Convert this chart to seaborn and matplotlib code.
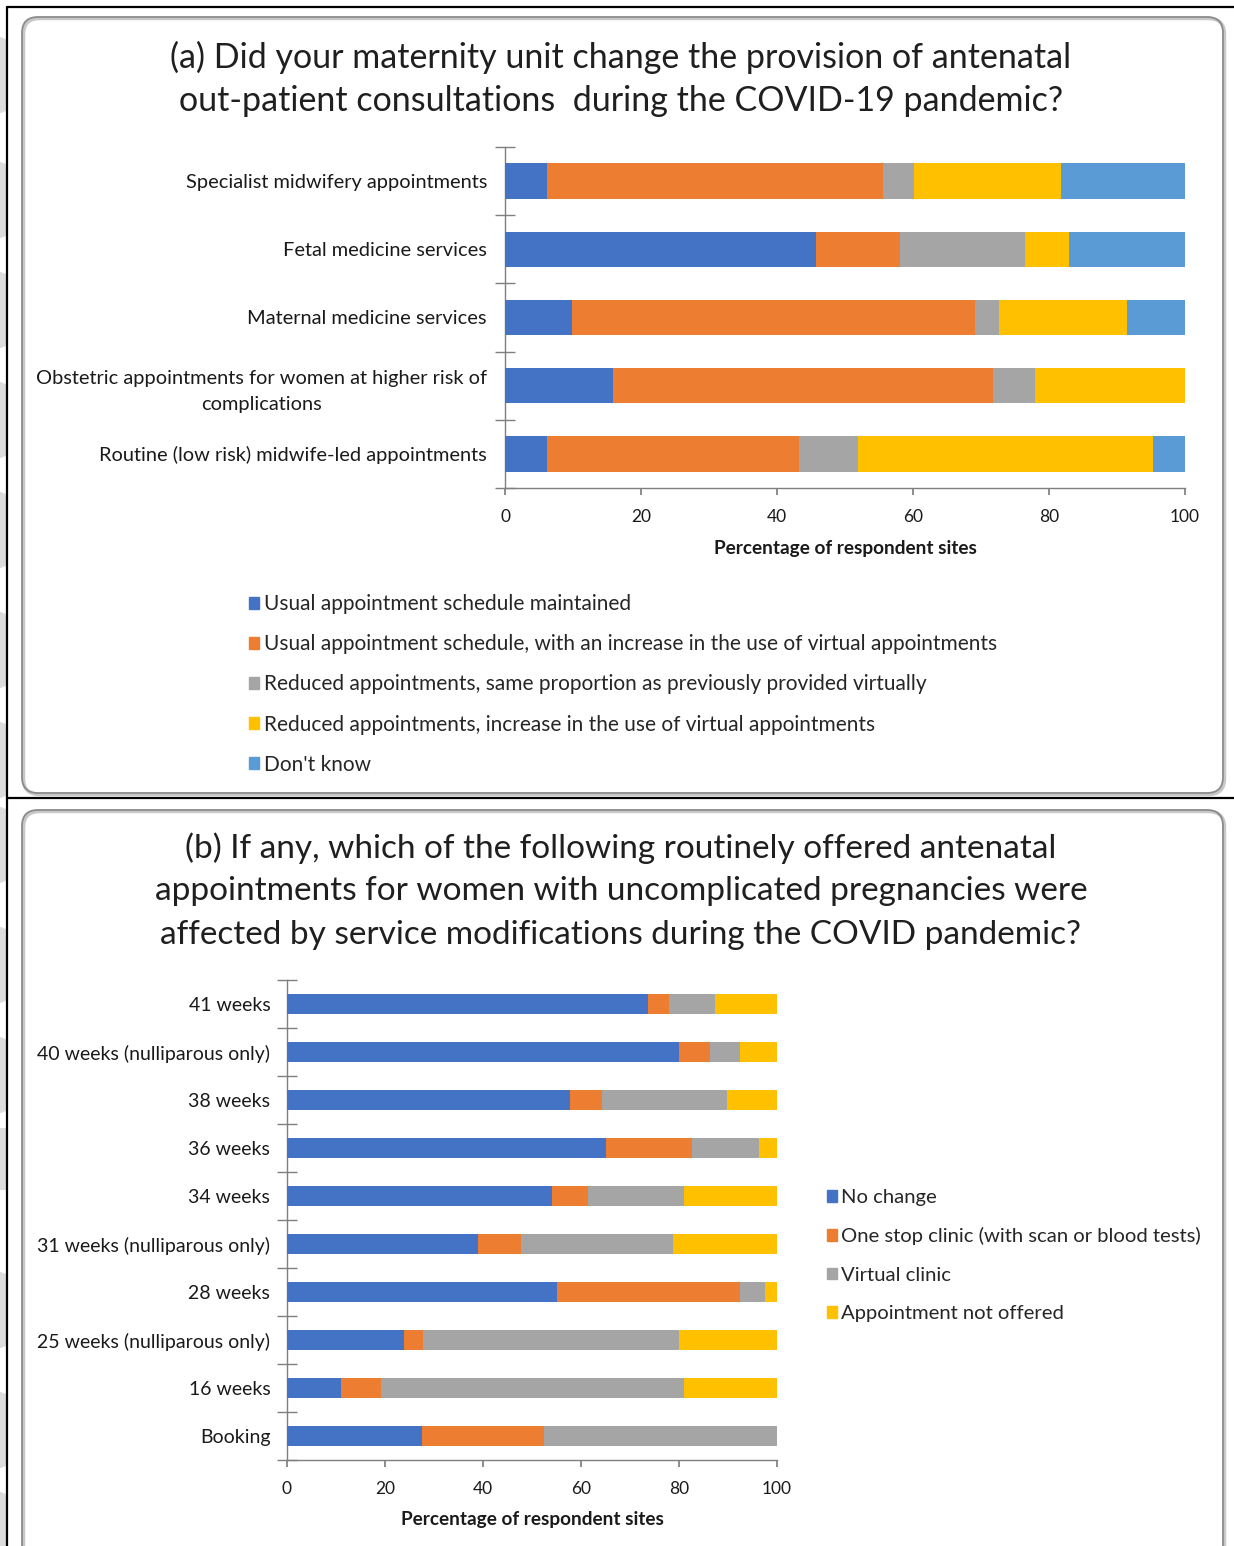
import numpy as np
import pandas as pd
import matplotlib
matplotlib.use("Agg")
import matplotlib.pyplot as plt
import seaborn as sns
from matplotlib.patches import FancyBboxPatch, Patch, Circle, Rectangle
from matplotlib.lines import Line2D

sns.set_theme(style="white")
plt.rcParams['font.family'] = ['Lato', 'DejaVu Sans']

# ---------------- Data ----------------
cats_a = ["Specialist midwifery appointments",
          "Fetal medicine services",
          "Maternal medicine services",
          "Obstetric appointments for women at higher risk of\ncomplications",
          "Routine (low risk) midwife-led appointments"]
series_a = ["Usual appointment schedule maintained",
            "Usual appointment schedule, with an increase in the use of virtual appointments",
            "Reduced appointments, same proportion as previously provided virtually",
            "Reduced appointments, increase in the use of virtual appointments",
            "Don't know"]
usual_maintained = [6.2, 45.7, 9.9, 15.9, 6.2]
usual_virtual = [49.4, 12.4, 59.2, 55.8, 37.1]
reduced_same = [4.6, 18.4, 3.6, 6.2, 8.6]
reduced_virtual = [21.5, 6.4, 18.8, 22.1, 43.4]
dont_know = [18.3, 17.1, 8.5, 0.0, 4.7]
colors_a = ["#4472C4", "#ED7D31", "#A5A5A5", "#FFC000", "#5B9BD5"]

cats_b = ["41 weeks", "40 weeks (nulliparous only)", "38 weeks", "36 weeks",
          "34 weeks", "31 weeks (nulliparous only)", "28 weeks",
          "25 weeks (nulliparous only)", "16 weeks", "Booking"]
series_b = ["No change", "One stop clinic (with scan or blood tests)",
            "Virtual clinic", "Appointment not offered"]
no_change = [73.6, 80.0, 57.8, 65.0, 54.0, 38.9, 55.0, 23.8, 11.1, 27.5]
one_stop = [4.3, 6.4, 6.4, 17.6, 7.5, 8.8, 37.5, 3.9, 8.0, 25.0]
virtual_clinic = [9.5, 6.0, 25.6, 13.8, 19.6, 31.0, 5.1, 52.3, 62.0, 47.5]
not_offered = [12.6, 7.6, 10.2, 3.6, 18.9, 21.3, 2.4, 20.0, 18.9, 0.0]
colors_b = ["#4472C4", "#ED7D31", "#A5A5A5", "#FFC000"]

xticks = [0, 20, 40, 60, 80, 100]
xlabel = "Percentage of respondent sites"

title_a = ["(a) Did your maternity unit change the provision of antenatal",
           "out-patient consultations  during the COVID-19 pandemic?"]
title_b = ["(b) If any, which of the following routinely offered antenatal",
           "appointments for women with uncomplicated pregnancies were",
           "affected by service modifications during the COVID pandemic?"]

W, H = 1234, 1546
fig = plt.figure(figsize=(W / 100, H / 100), dpi=100)
fig.patch.set_facecolor("white")


def px(x, y):
    return x / W, 1 - y / H


# ---------------- background decorations ----------------
wm = "#dcdcdc"
for cy in [75, 200, 310, 420, 530, 650, 760, 845, 965, 1075, 1310, 1430, 1530]:
    fig.add_artist(Circle((-12 / 100, (H - cy) / 100), 0.40,
                          transform=fig.dpi_scale_trans, color=wm, lw=0, zorder=0))
for (x0, y0, w, h) in [(0, 1128, 75, 7), (0, 1183, 75, 7), (0, 1128, 22, 62)]:
    fig.add_artist(Rectangle((x0 / 100, (H - y0 - h) / 100), w / 100, h / 100,
                             transform=fig.dpi_scale_trans, color=wm, lw=0, zorder=0))

# white area right of the left border
fig.add_artist(Rectangle((8 / 100, 0), (W - 8) / 100, (H - 7) / 100,
                         transform=fig.dpi_scale_trans, color="white", lw=0, zorder=0.5))

# rounded boxes
for (x0, y0, x1, y1) in [(22, 17, 1223, 793), (22, 810, 1223, 1575)]:
    for off, col, lw in [(1.5, "#c8c8c8", 2.5), (0, "#8c8c8c", 1.3)]:
        fig.add_artist(FancyBboxPatch(((x0 + off) / 100, (H - y1 - off) / 100),
                                      (x1 - x0) / 100, (y1 - y0) / 100,
                                      boxstyle="round,pad=0,rounding_size=0.16",
                                      transform=fig.dpi_scale_trans, fc="none",
                                      ec=col, lw=lw, zorder=1))

# black frame lines
for (xa, ya, xb, yb) in [(7, 6.5, W, 6.5), (7, 6.5, 7, H), (7, 798, W, 798)]:
    fig.add_artist(Line2D([xa / W, xb / W], [1 - ya / H, 1 - yb / H],
                          transform=fig.transFigure, color="black", lw=1.6, zorder=2))

# ---------------- titles ----------------
for txt, yy in zip(title_a, [57, 101]):
    fig.text(*px(621, yy), txt, ha="center", va="center", fontsize=24.5, color="#1f1f1f")
for txt, yy in zip(title_b, [848, 891, 935]):
    fig.text(*px(621, yy), txt, ha="center", va="center", fontsize=24, color="#1f1f1f")


def stacked(ax, cats, vals, colors, width, labelsize, pad):
    cum = np.cumsum(np.array(vals), axis=0)
    for i in reversed(range(len(vals))):
        df = pd.DataFrame({"cat": cats, "val": cum[i]})
        sns.barplot(data=df, x="val", y="cat", color=colors[i], orient="h",
                    width=width, saturation=1, ax=ax, linewidth=0, zorder=3)
    n = len(cats)
    ax.set_xlim(0, 100)
    ax.set_ylim(n - 0.5, -0.5)
    ax.set_xticks(xticks)
    ax.set_xticklabels([str(t) for t in xticks])
    ax.set_yticks(range(n))
    ax.set_yticklabels(cats, multialignment="center", linespacing=1.65)
    ax.set_yticks(np.arange(-0.5, n, 1.0), minor=True)
    for s in ["top", "right"]:
        ax.spines[s].set_visible(False)
    for s in ["left", "bottom"]:
        ax.spines[s].set_color("#7f7f7f")
        ax.spines[s].set_linewidth(1.0)
    ax.tick_params(axis="y", which="major", length=4, direction="out",
                   color="#7f7f7f", labelsize=labelsize, pad=pad, labelcolor="#1a1a1a")
    ax.tick_params(axis="y", which="minor", length=14, direction="inout",
                   color="#7f7f7f", width=1.0, left=True)
    ax.tick_params(axis="x", which="major", length=5, direction="out",
                   color="#7f7f7f", labelsize=12.5, pad=10, labelcolor="#1a1a1a",
                   bottom=True)
    ax.set_ylabel("")
    ax.set_xlabel(xlabel, fontsize=13.7, fontweight="bold", labelpad=11, color="#1a1a1a")
    ax.set_facecolor("none")
    ax.grid(False)


# ---------------- panel (a) ----------------
axa = fig.add_axes([505 / W, 1 - 488 / H, 680 / W, (488 - 147) / H])
axa.set_zorder(3)
stacked(axa, cats_a, [usual_maintained, usual_virtual, reduced_same,
                      reduced_virtual, dont_know], colors_a, 0.52, 14.4, 9)

handles_a = [Patch(color=c, label=l) for c, l in zip(colors_a, series_a)]
fig.legend(handles=handles_a, loc="upper left", bbox_to_anchor=px(249, 594),
           frameon=False, fontsize=15, handlelength=0.5, handleheight=0.5,
           handletextpad=0.2, labelspacing=0.97, borderaxespad=0, borderpad=0)

# ---------------- panel (b) ----------------
axb = fig.add_axes([287 / W, 1 - 1460 / H, 490 / W, (1460 - 980) / H])
axb.set_zorder(3)
stacked(axb, cats_b, [no_change, one_stop, virtual_clinic, not_offered], colors_b,
        0.40, 14, 8)
axb.tick_params(axis="x", which="major", pad=10)
axb.xaxis.labelpad = 10

handles_b = [Patch(color=c, label=l) for c, l in zip(colors_b, series_b)]
fig.legend(handles=handles_b, loc="upper left", bbox_to_anchor=px(827, 1189),
           frameon=False, fontsize=14.6, handlelength=0.5, handleheight=0.5,
           handletextpad=0.2, labelspacing=1.05, borderaxespad=0, borderpad=0)

fig.savefig("out.png", dpi=100, facecolor="white")
